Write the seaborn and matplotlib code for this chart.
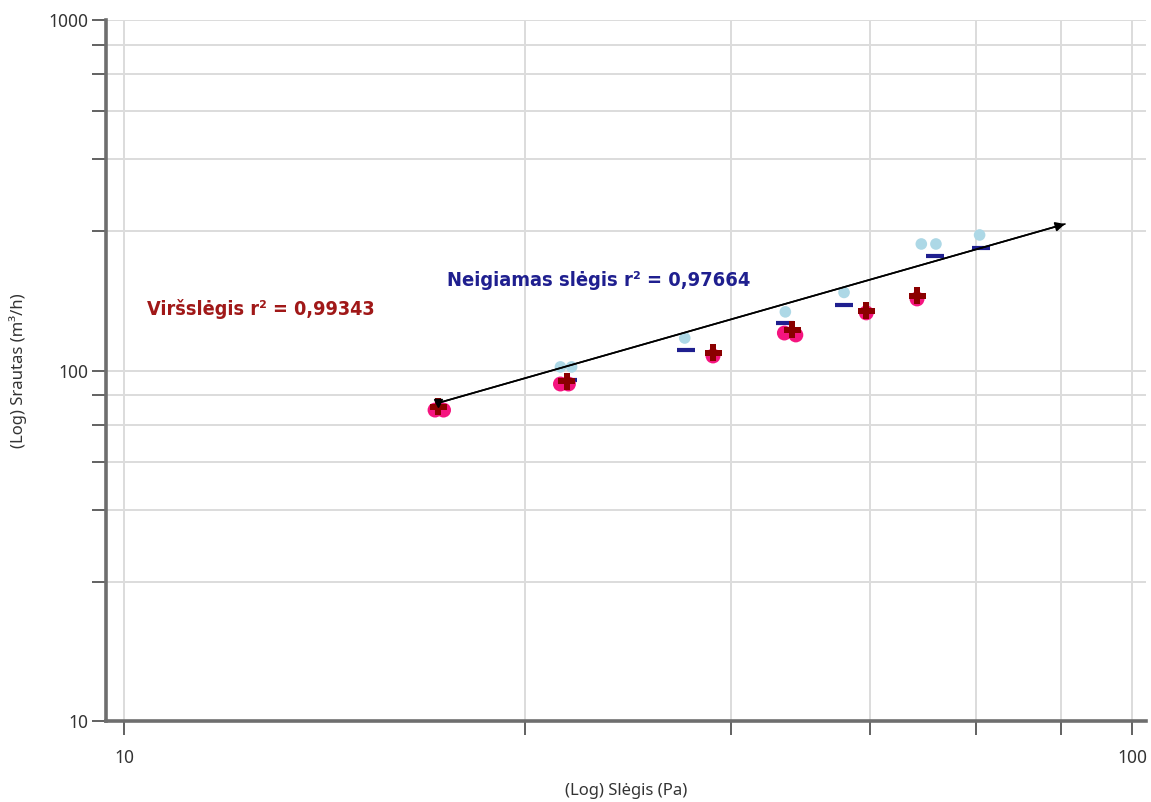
import numpy as np
import pandas as pd
import matplotlib
matplotlib.use("Agg")
import matplotlib.pyplot as plt
import seaborn as sns
from matplotlib.ticker import FixedLocator

# ---- data ----
over_meas_x = [20.35, 20.75, 27.1, 27.6, 38.4, 45.2, 46.4, 54.5, 61.2]
over_meas_y = [77.1, 77.1, 91.5, 91.5, 110.0, 127.9, 126.3, 146.0, 160.0]
over_fit_x = [20.5, 27.5, 38.4, 46.0, 54.5, 61.2]
over_fit_y = [78.7, 93.3, 112.2, 130.5, 147.9, 163.2]
neg_meas_x = [27.1, 27.8, 36.0, 45.3, 51.8, 61.8, 63.9, 70.6]
neg_meas_y = [102.4, 102.4, 123.8, 147.0, 167.0, 229.6, 229.6, 243.6]
neg_fit_x = [27.6, 36.1, 45.3, 51.8, 63.8, 70.8]
neg_fit_y = [94.0, 114.4, 136.6, 153.8, 212.0, 223.6]
line_x = [20.5, 85.8]
line_y = [80.8, 261.8]

x_ticks = [10, 25, 40, 55, 70, 85, 100]
y_ticks = [10, 25, 40, 55, 70, 85, 100, 250, 400, 550, 700, 850, 1000]
x_labels = {10: "10", 100: "100"}
y_labels = {10: "10", 100: "100", 1000: "1000"}

label_over = "Viršslėgis r² = 0,99343"
label_neg = "Neigiamas slėgis r² = 0,97664"
xlabel = "(Log) Slėgis (Pa)"
ylabel = "(Log) Srautas (m³/h)"

sns.set_style("white")
plt.rcParams['font.family'] = ['Noto Sans', 'DejaVu Sans']

fig = plt.figure(figsize=(11.51, 8.02), dpi=100)
ax = fig.add_axes([106 / 1151, 1 - 721 / 802, (1146 - 106) / 1151, (721 - 20) / 802])
ax.set_xscale("log")
ax.set_yscale("log")
ax.set_xlim(10 ** (1 - 18 / 1008), 10 ** (2 + 14 / 1008))
ax.set_ylim(10, 1000)

ax.xaxis.set_major_locator(FixedLocator(x_ticks))
ax.yaxis.set_major_locator(FixedLocator(y_ticks))
ax.xaxis.set_minor_locator(FixedLocator([]))
ax.yaxis.set_minor_locator(FixedLocator([]))
ax.set_xticklabels([x_labels.get(v, "") for v in x_ticks])
ax.set_yticklabels([y_labels.get(v, "") for v in y_ticks])
ax.grid(True, which="major", color="#dcdcdc", linewidth=1.4)
ax.set_axisbelow(True)

neg_color_light = "#add8e6"
neg_color_dark = "#1f1f8f"
over_color_light = "#f5147f"
over_color_dark = "#8b0000"

sns.scatterplot(x=neg_meas_x, y=neg_meas_y, ax=ax, color=neg_color_light, marker="o",
                s=70, edgecolor="none", zorder=3)
sns.scatterplot(x=neg_fit_x, y=neg_fit_y, ax=ax, color=neg_color_dark, marker="_",
                s=150, linewidth=3, zorder=4)
sns.scatterplot(x=over_meas_x, y=over_meas_y, ax=ax, color=over_color_light, marker="o",
                s=115, edgecolor="none", zorder=5)
sns.scatterplot(x=over_fit_x, y=over_fit_y, ax=ax, color=over_color_dark, marker="P",
                s=150, edgecolor="none", zorder=6)

sns.lineplot(x=line_x, y=line_y, ax=ax, color="black", linewidth=1.2, zorder=7)
ax.annotate("", xy=(line_x[1], line_y[1]), xytext=(line_x[0], line_y[0]),
            arrowprops=dict(arrowstyle="-|>", color="black", lw=1.2,
                            mutation_scale=14, shrinkA=0, shrinkB=0), zorder=8)
ax.plot([line_x[0]], [line_y[0]], marker="v", color="black", markersize=6, zorder=8)

ax.text(10.54, 149.8, label_over, color="#a01818", fontsize=14.2, fontweight="bold",
        family=['DejaVu Sans'], fontstretch="condensed", va="center", ha="left")
ax.text(20.9, 181.0, label_neg, color="#1f1f8f", fontsize=14.4, fontweight="bold",
        family=['DejaVu Sans'], fontstretch="condensed", va="center", ha="left")

for side in ["top", "right"]:
    ax.spines[side].set_visible(False)
for side in ["left", "bottom"]:
    ax.spines[side].set_color("#6e6e6e")
    ax.spines[side].set_linewidth(2.6)

ax.tick_params(axis="both", which="major", direction="out", length=10, width=1.3,
               color="#555555", labelsize=12.5, labelcolor="#333333",
               bottom=True, left=True)
ax.tick_params(axis="x", pad=10)
ax.tick_params(axis="y", pad=3)

ax.set_xlabel(xlabel, fontsize=12, color="#333333", labelpad=12)
ax.set_ylabel(ylabel, fontsize=12, color="#333333", labelpad=15)

fig.savefig("out.png", dpi=100)
